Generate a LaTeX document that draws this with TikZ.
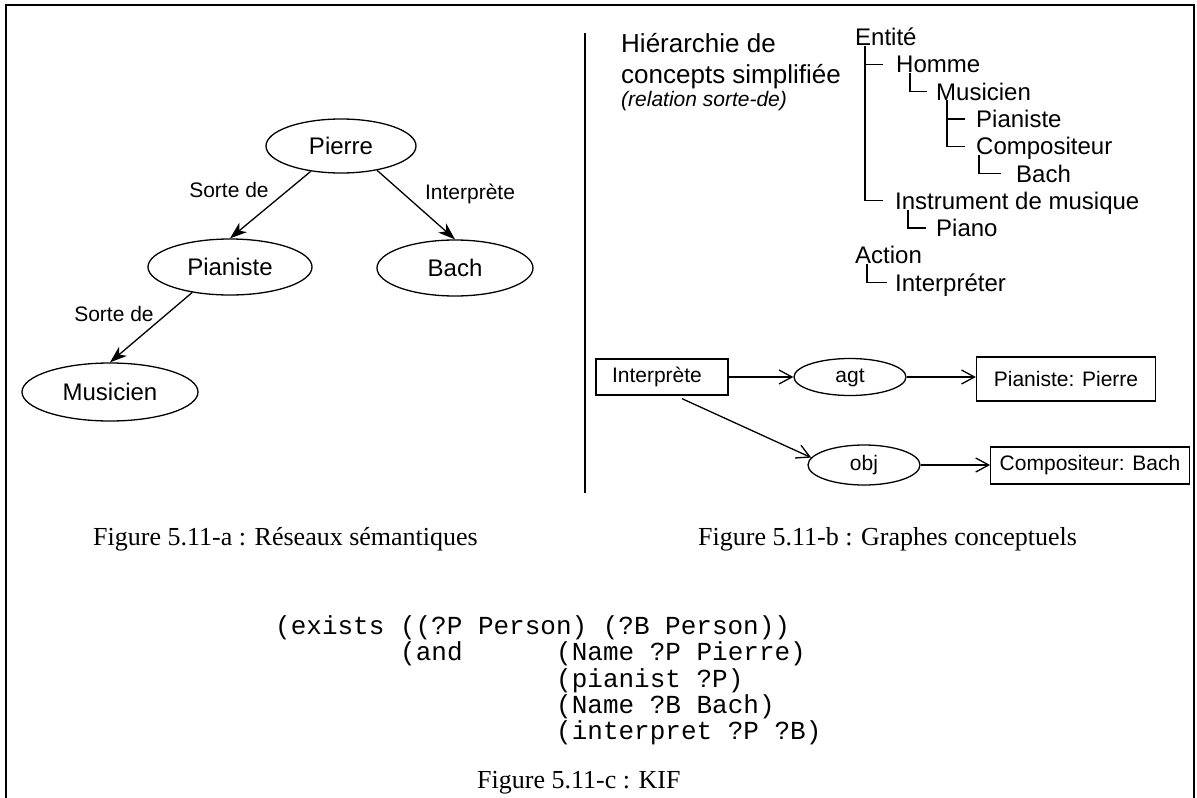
\documentclass[tikz,border=0pt]{standalone}
\usepackage{fontspec}
\setmainfont{Liberation Sans}
\newfontfamily\serifcap{Liberation Serif}
\newfontfamily\monocode{Liberation Mono}
\usetikzlibrary{shapes.geometric,arrows.meta,calc}
\begin{document}
\begin{tikzpicture}[x=1pt,y=-1pt,
 sem/.style={ellipse,draw,line width=1.3pt,inner sep=0pt,font=\fontsize{24}{28}\selectfont},
 semarrow/.style={line width=1.3pt,-{Stealth[length=17pt,width=12pt,inset=5pt]}},
 lbl/.style={anchor=base,inner sep=0pt,font=\fontsize{21}{25}\selectfont},
 titletext/.style={anchor=base west,inner sep=0pt,font=\fontsize{26}{30}\selectfont},
 tree/.style={anchor=west,inner sep=0pt,text height=17pt,text depth=0pt,font=\fontsize{24}{28}\selectfont},
 treeline/.style={line width=1.3pt},
 cgbox/.style={rectangle,draw,line width=1.3pt,inner ysep=0pt,font=\fontsize{21}{25}\selectfont},
 cgrel/.style={ellipse,draw,line width=1.3pt,inner sep=0pt,minimum width=112pt,minimum height=38pt,text height=10pt,text depth=0pt,font=\fontsize{21}{25}\selectfont},
 cgarrow/.style={line width=1.3pt,-{Straight Barb[length=13pt,width=14pt]}},
 caption/.style={anchor=base west,inner sep=0pt,font=\serifcap\fontsize{26}{30}\selectfont},
 code/.style={anchor=base west,inner sep=0pt,font=\monocode\fontsize{26}{30}\selectfont},
 frameline/.style={line width=2pt}]
\useasboundingbox (0,0) rectangle (1197,798);
% frame and divider
\draw[frameline] (6,798) -- (6,5) -- (1194,5) -- (1194,798);
\draw[frameline] (585,33) -- (585,493);
% semantic network
\node[sem,minimum width=150pt,minimum height=54pt] (pierre) at (341,146) {Pierre};
\node[sem,minimum width=164pt,minimum height=56pt] (pianiste) at (230,267) {Pianiste};
\node[sem,minimum width=156pt,minimum height=56pt] (bach) at (455,268) {Bach};
\node[sem,minimum width=176pt,minimum height=58pt] (musicien) at (110,392) {Musicien};
\draw[semarrow] (pierre.220) -- (pianiste.north);
\draw[semarrow] (pierre.-34) -- (bach.north);
\draw[semarrow] (pianiste.214) -- (musicien.north);
\node[lbl] (l1) at (229,197) {Sorte de};
\node[lbl] (l2) at (470,199) {Interprète};
\node[lbl] (l3) at (114,321) {Sorte de};
% hierarchy title
\node[titletext] (t1) at (621,52) {Hiérarchie de};
\node[titletext] (t2) at (621,83) {concepts simplifiée};
\node[anchor=base west,inner sep=0pt,font=\itshape\fontsize{21}{25}\selectfont] (t3) at (621,106) {(relation sorte-de)};
% tree
\node[tree] (entite) at (855,37) {Entité};
\node[tree] (homme) at (896,64.3) {Homme};
\node[tree] (hmus) at (936,91.6) {Musicien};
\node[tree] (hpia) at (976,118.9) {Pianiste};
\node[tree] (hcomp) at (976,146.2) {Compositeur};
\node[tree] (hbach) at (1016,173.5) {Bach};
\node[tree] (hinst) at (895,200.8) {Instrument de musique};
\node[tree] (hpiano) at (936,228.1) {Piano};
\node[tree] (haction) at (855,255.4) {Action};
\node[tree] (hinterp) at (895,282.7) {Interpréter};
\coordinate (v0) at ($(entite.south west)+(10,0)$);
\draw[treeline] (v0) |- ($(hinst.west)+(-12,0)$);
\draw[treeline] (v0 |- homme.west) -- ($(homme.west)+(-13,0)$);
\coordinate (v1) at ($(homme.south west)+(14,0)$);
\draw[treeline] (v1) |- ($(hmus.west)+(-9,0)$);
\coordinate (v2) at ($(hmus.south west)+(11,0)$);
\draw[treeline] (v2) |- ($(hcomp.west)+(-11,0)$);
\draw[treeline] (v2 |- hpia.west) -- ($(hpia.west)+(-11,0)$);
\coordinate (v3) at ($(hcomp.south west)+(3,0)$);
\draw[treeline] (v3) |- ($(hbach.west)+(-15,0)$);
\coordinate (v4) at ($(hinst.south west)+(13,0)$);
\draw[treeline] (v4) |- ($(hpiano.west)+(-10,0)$);
\coordinate (v5) at ($(haction.south west)+(12,0)$);
\draw[treeline] (v5) |- ($(hinterp.west)+(-8,0)$);
% conceptual graph
\node[cgbox,inner xsep=16pt,text width=100pt,align=left,minimum height=36pt] (cinterp) at (662,377) {Interprète};
\node[cgrel,minimum height=37pt] (agt) at (850,377) {agt};
\node[cgbox,minimum width=179pt,minimum height=44pt] (cpp) at (1066,379) {Pianiste: Pierre};
\node[cgrel,minimum height=40pt] (obj) at (864,465) {obj};
\node[cgbox,inner xsep=9pt,minimum width=198pt,minimum height=37pt] (ccb) at (1090,465.5) {Compositeur: Bach};
\draw[cgarrow] (cinterp.east) -- (agt.west);
\draw[cgarrow] (agt.east) -- (agt.east -| cpp.west);
\draw[cgarrow] ($(cinterp.south west)!0.65!(cinterp.south east)+(0,3)$) -- (obj.172);
\draw[cgarrow] (obj.east) -- (obj.east -| ccb.west);
% captions
\node[caption] (capa) at (93,545) {Figure 5.11-a : Réseaux sémantiques};
\node[caption] (capb) at (698,545) {Figure 5.11-b : Graphes conceptuels};
\node[caption] (capc) at (477,788) {Figure 5.11-c : KIF};
% KIF code
\node[code] (k1) at (275,634) {(exists ((?P Person) (?B Person))};
\node[code] (k2a) at (400,660) {(and};
\node[code] (k2b) at (556,660) {(Name ?P Pierre)};
\node[code] (k3) at (556,687) {(pianist ?P)};
\node[code] (k4) at (556,713) {(Name ?B Bach)};
\node[code] (k5) at (556,739) {(interpret ?P ?B)};
\end{tikzpicture}
\end{document}
